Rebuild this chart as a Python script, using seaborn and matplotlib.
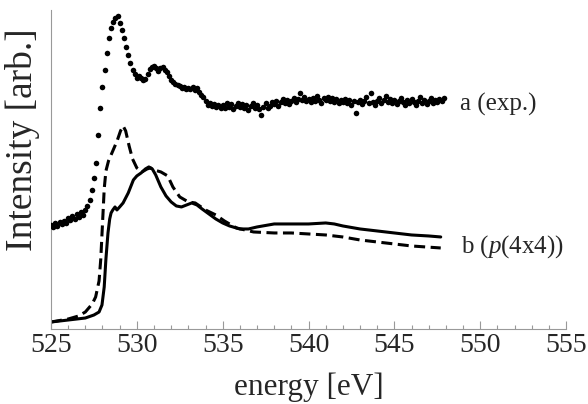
import numpy as np
import matplotlib
matplotlib.use("Agg")
import matplotlib.pyplot as plt
import pandas as pd
import seaborn as sns
from matplotlib.ticker import MultipleLocator

# experimental spectrum (a), sampled every 0.125 eV from 525 eV
exp_energy = np.arange(525.0, 548.0, 0.125)
exp_intensity = [
    104, 102, 106, 103, 107, 105, 108, 106,
    111, 109, 113, 110, 115, 112, 117, 114,
    119, 123, 129, 139, 151, 166, 194, 221,
    242, 259, 276, 291, 301, 307, 311, 313,
    306, 299, 291, 282, 274, 266, 259, 255,
    251, 253, 251, 249, 250, 255, 260, 262,
    263, 261, 258, 261, 262, 259, 257, 253,
    249, 247, 245, 244, 243, 241, 242, 240,
    241, 240, 242, 239, 241, 237, 234, 232,
    228, 224, 226, 223, 225, 222, 224, 221,
    224, 221, 226, 222, 225, 220, 223, 226,
    222, 225, 221, 224, 219, 223, 226, 221,
    224, 220, 214, 222, 226, 221, 223, 227,
    225, 228, 223, 227, 230, 226, 229, 225,
    228, 231, 227, 230, 236, 229, 232, 228,
    230, 227, 231, 228, 233, 229, 226, 231,
    229, 232, 228, 231, 227, 230, 226, 229,
    227, 230, 226, 229, 224, 228, 216, 227,
    229, 225, 228, 232, 226, 236, 227, 224,
    228, 231, 226, 229, 233, 227, 230, 226,
    229, 225, 228, 231, 227, 224, 229, 226,
    230, 227, 224, 228, 232, 226, 229, 225,
    228, 231, 226, 229, 227, 230, 228, 231,
]

# calculated spectrum b, solid curve
calc_solid_energy = [525.0, 526.0, 527.0, 527.5, 527.8, 527.97, 528.1, 528.2, 528.32,
                     528.42, 528.5, 528.6, 528.73, 528.84, 529.0, 529.2, 529.5, 529.8,
                     530.0, 530.25, 530.5, 530.7, 530.9, 531.1, 531.4, 531.7, 532.0,
                     532.3, 532.6, 532.9, 533.2, 533.5, 533.8, 534.2, 534.6, 535.0,
                     535.4, 536.0, 536.5, 537.0, 538.0, 539.0, 540.0, 541.0, 541.5,
                     542.0, 543.0, 544.0, 545.0, 546.0, 547.0, 547.7]
calc_solid_intensity = [7, 9, 11, 14, 17, 24, 42, 70, 96,
                        110, 116, 119, 122, 119, 122, 126, 136, 149,
                        153, 156, 160, 162, 160, 154, 142, 133, 127,
                        123, 122, 124, 126, 124, 120, 115, 110, 106,
                        103, 100, 100, 102, 105, 105, 105, 106, 105,
                        103, 100, 98, 96, 94, 93, 92]

# calculated spectrum b, dashed curve
calc_dash_energy = [525.0, 526.0, 526.6, 527.0, 527.4, 527.6, 527.8, 527.9, 528.0,
                    528.1, 528.2, 528.35, 528.6, 528.85, 529.05, 529.2, 529.35, 529.55,
                    529.75, 530.0, 530.3, 530.6, 530.8, 531.0, 531.4, 531.8, 532.1,
                    532.5, 533.0, 533.4, 534.0, 534.6, 535.1, 535.8, 536.8, 538.0,
                    539.0, 540.0, 541.0, 542.0, 543.0, 544.0, 545.0, 546.0, 547.7]
calc_dash_intensity = [7, 10, 13, 17, 25, 32, 48, 70, 105,
                       140, 158, 168, 178, 188, 198, 203, 198, 183,
                       170, 161, 157, 160, 161, 159, 157, 153, 142,
                       132, 127, 126, 119, 114, 108, 101, 97, 96,
                       96, 95, 94, 92, 89, 87, 85, 83, 81]

sns.set_style("white")
plt.rcParams["font.family"] = ["Liberation Serif", "DejaVu Serif"]
plt.rcParams["mathtext.fontset"] = "custom"
plt.rcParams["mathtext.rm"] = "Liberation Serif"
plt.rcParams["mathtext.it"] = "Liberation Serif:italic"

exp_df = pd.DataFrame({"energy": exp_energy, "intensity": exp_intensity})
solid_df = pd.DataFrame({"energy": calc_solid_energy, "intensity": calc_solid_intensity})
dash_df = pd.DataFrame({"energy": calc_dash_energy, "intensity": calc_dash_intensity})

fig = plt.figure(figsize=(5.88, 4.04), dpi=100)
ax = fig.add_axes([0.0867, 0.1856, 0.876, 0.79])

sns.scatterplot(data=exp_df, x="energy", y="intensity", ax=ax, color="black",
                s=16, linewidth=0, zorder=3)
sns.lineplot(data=solid_df, x="energy", y="intensity", ax=ax, color="black",
             linewidth=2.2, zorder=2)
sns.lineplot(data=dash_df, x="energy", y="intensity", ax=ax, color="black",
             linewidth=2.2, zorder=2)
ax.lines[-1].set_dashes([3.6, 1.8])

ax.set_xlim(525, 555)
ax.set_ylim(0, 319)
ax.xaxis.set_major_locator(MultipleLocator(5))
ax.xaxis.set_minor_locator(MultipleLocator(1))
ax.set_yticks([])
ax.tick_params(axis="x", which="major", direction="in", length=6, width=0.8,
               color="#999999", labelsize=20, pad=3)
ax.tick_params(axis="x", which="minor", direction="in", length=3, width=0.8,
               color="#999999")
ax.tick_params(axis="x", which="both", bottom=True)

for side in ["top", "right"]:
    ax.spines[side].set_visible(False)
for side in ["left", "bottom"]:
    ax.spines[side].set_color("#999999")
    ax.spines[side].set_linewidth(0.8)

ax.set_xlabel("energy [eV]", fontsize=22.5)
ax.xaxis.set_label_coords(0.5, -0.135)
ax.set_ylabel("Intensity [arb.]", fontsize=27)
ax.yaxis.set_label_coords(-0.022, 0.592)

ax.text(548.8, 224, "a (exp.)", fontsize=18, va="center", ha="left")
ax.text(548.9, 82, "b ($p$(4x4))", fontsize=18, va="center", ha="left")

fig.savefig("out.png", dpi=100)
